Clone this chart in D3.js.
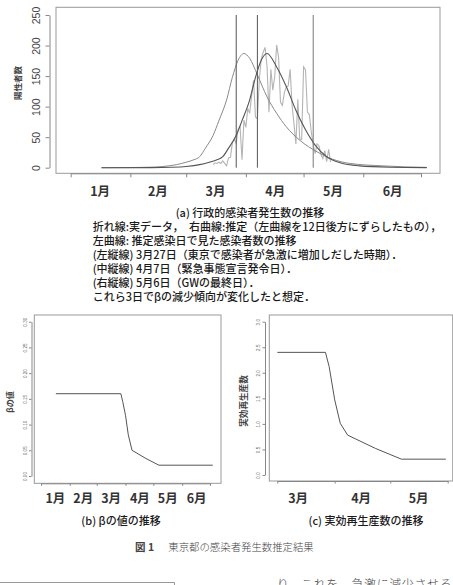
<!DOCTYPE html>
<html>
<head>
<meta charset="utf-8">
<script src="https://cdn.jsdelivr.net/npm/d3@7"></script>
<style>
  body { margin: 0; background: #fff; }
  svg { display: block; }
  text { font-family: "Noto Sans CJK JP", "Noto Sans", sans-serif; }
</style>
</head>
<body>
<svg id="fig" width="453" height="585"></svg>
<script>
(function () {
  var parse = d3.timeParse("%Y-%m-%d");

  // month boundaries and labels
  var monthStarts = ["2020-01-01", "2020-02-01", "2020-03-01", "2020-04-01", "2020-05-01", "2020-06-01", "2020-07-01"];
  var monthMids = ["2020-01-16", "2020-02-15", "2020-03-16", "2020-04-16", "2020-05-16", "2020-06-16"];
  var monthLabels = ["1月", "2月", "3月", "4月", "5月", "6月"];

  // (a) reported positives, daily from 2020-03-15
  var reportStart = "2020-03-15";
  var reportValues = [5, 8, 7, 9, 7, 11, 7, 3, 16, 17, 41, 47, 40, 63, 68, 13, 78,
    66, 97, 89, 118, 143, 83, 80, 144, 178, 189, 197, 166, 91, 161, 127, 149, 201, 181,
    107, 102, 123, 132, 134, 161, 103, 72, 39, 112, 47, 46,
    165, 160, 91, 87, 58, 38, 23, 39, 36, 22, 15, 28, 10, 30, 9];

  // left curve: estimated by infection date
  var estDates = ["2020-01-17", "2020-01-31", "2020-02-10", "2020-02-18", "2020-02-25", "2020-03-01",
    "2020-03-05", "2020-03-08", "2020-03-11", "2020-03-15", "2020-03-18", "2020-03-22", "2020-03-25",
    "2020-03-28", "2020-03-31", "2020-04-03", "2020-04-07", "2020-04-12", "2020-04-17", "2020-04-22",
    "2020-04-29", "2020-05-08", "2020-05-16", "2020-05-25", "2020-06-11", "2020-07-04"];
  var estValues = [0, 0.2, 0.7, 2, 5, 9, 13, 18, 32, 53, 77, 111, 148, 176, 187, 179, 152, 116, 89, 67,
    45, 26, 14, 7, 3, 0.5];

  // right curve: estimate shifted 12 days later
  var shiftDates = ["2020-01-17", "2020-02-12", "2020-02-22", "2020-03-01", "2020-03-08", "2020-03-13",
    "2020-03-17", "2020-03-20", "2020-03-23", "2020-03-27", "2020-03-30", "2020-04-03", "2020-04-06",
    "2020-04-09", "2020-04-12", "2020-04-17", "2020-04-22", "2020-04-27", "2020-05-02", "2020-05-07",
    "2020-05-13", "2020-05-20", "2020-05-30", "2020-06-15", "2020-07-04"];
  var shiftValues = [0, 0.2, 0.7, 2, 5, 9, 13, 18, 32, 53, 77, 111, 148, 176, 187, 165, 133, 94, 62, 37,
    18, 8, 3, 0.8, 0.2];

  var eventDates = ["2020-03-27", "2020-04-07", "2020-05-06"];

  // (b) beta
  var betaDates = ["2020-01-17", "2020-03-27", "2020-03-29", "2020-04-01", "2020-04-04", "2020-04-08",
    "2020-04-23", "2020-05-07", "2020-07-04"];
  var betaValues = [0.16, 0.16, 0.145, 0.118, 0.08, 0.05, 0.034, 0.021, 0.021];

  // (c) effective reproduction number
  var rtDates = ["2020-03-01", "2020-03-27", "2020-03-29", "2020-04-01", "2020-04-04", "2020-04-08",
    "2020-04-23", "2020-05-07", "2020-05-31"];
  var rtValues = [2.4, 2.4, 2.12, 1.47, 1.01, 0.78, 0.52, 0.31, 0.31];

  var captionA = [
    "折れ線:実データ，　右曲線:推定（左曲線を12日後方にずらしたもの），",
    "左曲線: 推定感染日で見た感染者数の推移",
    "(左縦線) 3月27日（東京で感染者が急激に増加しだした時期）．",
    "(中縦線) 4月7日（緊急事態宣言発令日）．",
    "(右縦線) 5月6日（GWの最終日）．",
    "これら3日でβの減少傾向が変化したと想定．"
  ];

  var svg = d3.select("#fig");

  function zip(dates, values) {
    return dates.map(function (d, i) { return { date: parse(d), v: values[i] }; });
  }

  function rotateLabels(g, dx, size, color) {
    g.selectAll(".tick text")
      .attr("x", null).attr("dy", null)
      .attr("text-anchor", "middle")
      .attr("transform", "translate(" + dx + ",0) rotate(-90)")
      .style("font-family", "'Liberation Sans', Arial, sans-serif")
      .style("font-size", size + "px")
      .attr("fill", color);
  }

  function panel(o) {
    var x = d3.scaleTime().domain(o.xDomain.map(parse)).range(o.xRange);
    var y = d3.scaleLinear().domain(o.yDomain).range(o.yRange);

    svg.append("rect")
      .attr("x", o.box[0]).attr("y", o.box[1])
      .attr("width", o.box[2] - o.box[0]).attr("height", o.box[3] - o.box[1])
      .attr("fill", "none").attr("stroke", "#999").attr("stroke-width", 1);

    var ya = svg.append("g")
      .attr("transform", "translate(" + o.yAxisX + ",0)")
      .call(d3.axisLeft(y).tickValues(o.yTicks).tickFormat(d3.format(o.yFmt))
        .tickSize(o.tick).tickSizeOuter(0));
    ya.selectAll("path,line").attr("stroke", "#888");
    rotateLabels(ya, o.yLabelDx, o.yFont, o.yColor);

    var xa = svg.append("g")
      .attr("transform", "translate(0," + o.box[3] + ")")
      .call(d3.axisBottom(x).tickValues(o.xTicks.map(parse)).tickFormat("")
        .tickSize(o.tick).tickSizeOuter(0));
    xa.selectAll("path,line").attr("stroke", "#888");

    var xl = svg.append("g")
      .attr("transform", "translate(0," + o.labelY + ")")
      .call(d3.axisBottom(x).tickValues(o.labelDates.map(parse))
        .tickFormat(function (d, i) { return o.labels[i]; }).tickSize(0));
    xl.select(".domain").remove();
    xl.selectAll("text")
      .attr("y", 0).attr("dy", null)
      .style("font-size", o.labelFont + "px")
      .style("font-weight", "bold")
      .attr("fill", "#333");

    svg.append("text")
      .attr("transform", "translate(" + o.yTitle[0] + "," + o.yTitle[1] + ") rotate(-90)")
      .attr("text-anchor", "middle")
      .style("font-size", o.yTitle[2] + "px")
      .style("font-weight", "bold")
      .attr("fill", "#444")
      .text(o.yTitle[3]);

    return { x: x, y: y };
  }

  // ---------- (a) ----------
  var a = panel({
    xDomain: ["2020-01-01", "2020-07-01"], xRange: [70.7, 421],
    yDomain: [0, 250], yRange: [167.7, 15],
    box: [56, 7.3, 440, 173.3], yAxisX: 49.5, tick: 4,
    yTicks: [0, 50, 100, 150, 200, 250], yFmt: "d", yLabelDx: -9.8, yFont: 10.5, yColor: "#444",
    xTicks: monthStarts, labelDates: monthMids, labels: monthLabels, labelY: 196, labelFont: 12.5,
    yTitle: [21, 83, 8.5, "陽性者数"]
  });

  var lineA = d3.line()
    .x(function (d) { return a.x(d.date); })
    .y(function (d) { return a.y(d.v); });

  var report = reportValues.map(function (v, i) {
    return { date: d3.timeDay.offset(parse(reportStart), i), v: v };
  });

  svg.append("path").datum(report).attr("d", lineA.curve(d3.curveLinear))
    .attr("fill", "none").attr("stroke", "#b4b4b4").attr("stroke-width", 1.1);
  lineA.curve(d3.curveMonotoneX);
  svg.append("path").datum(zip(estDates, estValues)).attr("d", lineA)
    .attr("fill", "none").attr("stroke", "#8a8a8a").attr("stroke-width", 1);
  svg.append("path").datum(zip(shiftDates, shiftValues)).attr("d", lineA)
    .attr("fill", "none").attr("stroke", "#555").attr("stroke-width", 1.1);

  svg.selectAll(".event").data(eventDates).enter().append("line")
    .attr("x1", function (d) { return a.x(parse(d)); })
    .attr("x2", function (d) { return a.x(parse(d)); })
    .attr("y1", a.y(0)).attr("y2", a.y(250))
    .attr("stroke", function (d, i) { return i < 2 ? "#555" : "#777"; })
    .attr("stroke-width", 1);

  // caption (a)
  svg.append("text").attr("x", 250).attr("y", 216.5).attr("text-anchor", "middle")
    .style("font-size", "11px").style("font-weight", "500").attr("fill", "#1a1a1a")
    .text("(a) 行政的感染者発生数の推移");
  var capY = [231, 245, 259, 273, 286.5, 300.5];
  svg.selectAll(".capA").data(captionA).enter().append("text")
    .attr("x", 92.7).attr("y", function (d, i) { return capY[i]; })
    .style("font-size", "11px").style("font-weight", "500").attr("fill", "#1a1a1a")
    .text(function (d) { return d; });

  // ---------- (b) ----------
  var b = panel({
    xDomain: ["2020-01-01", "2020-07-01"], xRange: [41, 210],
    yDomain: [0, 0.3], yRange: [476, 321.7],
    box: [34.3, 315, 221, 483.3], yAxisX: 31.5, tick: 2.5,
    yTicks: [0, 0.05, 0.1, 0.15, 0.2, 0.25, 0.3], yFmt: ".2f", yLabelDx: -5, yFont: 4.6, yColor: "#666",
    xTicks: monthStarts, labelDates: monthMids, labels: monthLabels, labelY: 503, labelFont: 12.5,
    yTitle: [13, 402, 8, "βの値"]
  });
  svg.append("path").datum(zip(betaDates, betaValues))
    .attr("d", d3.line().x(function (d) { return b.x(d.date); }).y(function (d) { return b.y(d.v); }))
    .attr("fill", "none").attr("stroke", "#555").attr("stroke-width", 1);
  svg.append("text").attr("x", 121).attr("y", 525).attr("text-anchor", "middle")
    .style("font-size", "11px").style("font-weight", "500").attr("fill", "#1a1a1a").text("(b) βの値の推移");

  // ---------- (c) ----------
  var c = panel({
    xDomain: ["2020-03-01", "2020-06-01"], xRange: [277.3, 447.7],
    yDomain: [0, 3], yRange: [475, 321.7],
    box: [269.3, 315, 452.7, 481], yAxisX: 265, tick: 2.5,
    yTicks: [0, 0.5, 1, 1.5, 2, 2.5, 3], yFmt: ".1f", yLabelDx: -5, yFont: 4.6, yColor: "#666",
    xTicks: ["2020-03-01", "2020-04-01", "2020-05-01", "2020-06-01"],
    labelDates: ["2020-03-12", "2020-04-15", "2020-05-16"], labels: ["3月", "4月", "5月"],
    labelY: 503, labelFont: 12.5,
    yTitle: [247, 401, 8.6, "実効再生産数"]
  });
  svg.append("path").datum(zip(rtDates, rtValues))
    .attr("d", d3.line().x(function (d) { return c.x(d.date); }).y(function (d) { return c.y(d.v); }))
    .attr("fill", "none").attr("stroke", "#555").attr("stroke-width", 1);
  svg.append("text").attr("x", 366).attr("y", 525).attr("text-anchor", "middle")
    .style("font-size", "11px").style("font-weight", "500").attr("fill", "#1a1a1a").text("(c) 実効再生産数の推移");

  // figure caption and page fragments
  svg.append("text").attr("x", 135).attr("y", 551)
    .style("font-size", "10.5px").style("font-weight", "bold").attr("fill", "#444").text("図 1");
  svg.append("text").attr("x", 168.3).attr("y", 551)
    .style("font-size", "10.4px").style("font-weight", "300").attr("fill", "#444")
    .text("東京都の感染者発生数推定結果");
  svg.append("path").attr("d", "M0,582.5H174.5V586")
    .attr("fill", "none").attr("stroke", "#999").attr("stroke-width", 1);
  svg.append("text").attr("x", 276.7).attr("y", 589)
    .style("font-size", "12px").style("letter-spacing", "0.6px").style("font-weight", "300")
    .attr("fill", "#444").text("り，これを，急激に減少させる");
})();
</script>
</body>
</html>
